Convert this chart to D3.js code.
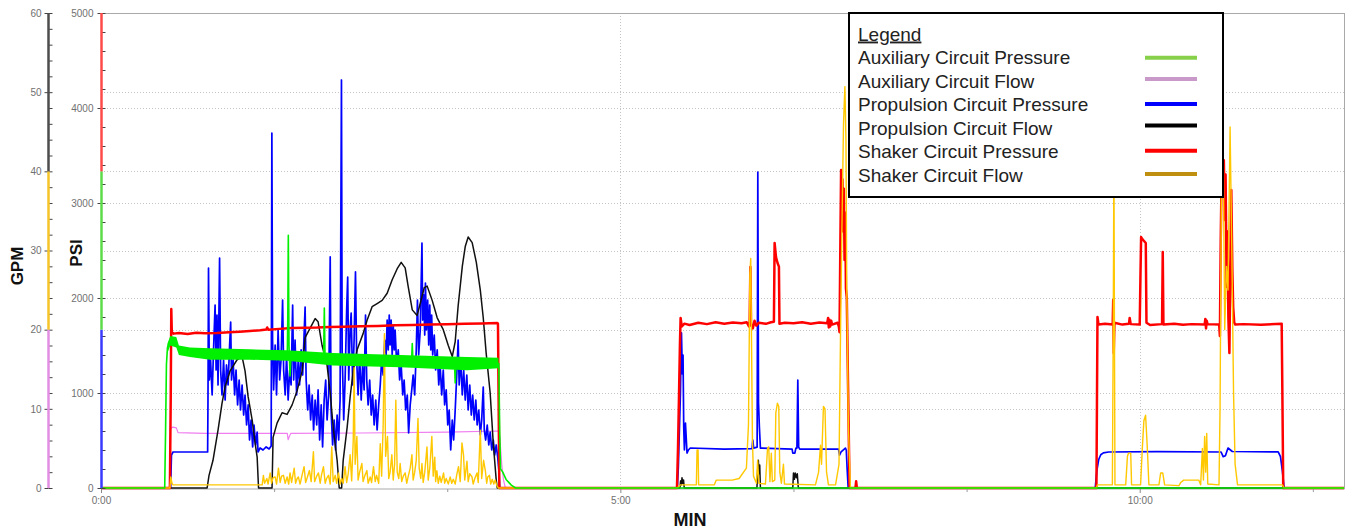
<!DOCTYPE html>
<html>
<head>
<meta charset="utf-8">
<script src="https://cdn.jsdelivr.net/npm/d3@7"></script>
<style>
  html, body { margin: 0; padding: 0; background: #fff; }
  svg { display: block; }
  text { font-family: "Liberation Sans", Arial, sans-serif; }
</style>
</head>
<body>
<svg id="chart" width="1349" height="529"></svg>
<script>
// ---- Recorded channels: time in seconds, pressure in PSI, flow in GPM ----

const auxPressure = [[0,0],[36.8,0],[37.3,600],[37.8,1300],[38.4,1480],[39.5,1540],[41,1560],[43,1555],[44.5,1470],[46,1440],[52,1430],[63,1410],[75,1410],[86,1405],[100,1400],[107.6,1395],[107.9,1800],[108.2,2660],[108.6,1500],[109.2,1180],[109.8,1390],[120,1385],[128.6,1380],[129.0,1895],[129.4,1380],[134,1360],[150,1350],[173,1340],[179.4,1330],[179.8,1520],[180.2,1330],[195,1320],[204.2,1310],[204.6,1105],[205.0,1310],[215,1305],[229.8,1310],[230.3,600],[230.8,200],[232,170],[234,90],[237,30],[239.5,0],[718,0]];

// min / max envelope of the fast ripple on the auxiliary pressure
const auxPressureSpread = [[38.4,1420,1520],[40,1500,1600],[43.5,1480,1590],[45,1400,1500],[51.4,1380,1480],[63,1350,1470],[86,1350,1460],[107.5,1340,1450],[134,1290,1420],[173,1270,1400],[211.5,1240,1380],[229.6,1260,1370]];

const auxFlow = [[0,0],[39.6,0],[40.1,7.5],[41.5,7.7],[43.5,7.6],[44.5,7.0],[60,6.9],[107.6,6.9],[108.1,6.1],[108.8,6.5],[109.6,6.9],[150,6.95],[200,7.05],[229.5,7.2],[230.3,6.5],[231.5,3],[232.5,1],[233.6,0],[718,0]];

const propPressure = [[0,0],[40.2,0],[40.7,347],[41.6,379],[61.6,379],[61.8,926],[62.1,2316],[62.6,1137],[63.3,1347],[64.2,979],[65.0,1453],[65.9,1926],[66.5,1242],[67.0,1821],[67.6,1084],[68.5,2421],[69.1,1242],[69.9,979],[70.8,1347],[71.7,926],[72.5,1295],[73.4,1084],[74.3,1505],[74.9,1747],[75.4,1137],[76.3,1347],[77.2,979],[78.0,1242],[78.9,874],[79.8,1137],[80.6,821],[81.5,1084],[82.4,768],[83.2,979],[84.1,663],[85.0,874],[85.8,505],[86.7,716],[87.6,432],[88.4,663],[89.3,453],[90.2,589],[90.7,379],[91.9,421],[93.6,400],[95.4,432],[97.1,411],[98.3,442],[98.7,3737],[99.1,1558],[99.7,1032],[100.6,1505],[101.4,979],[102.3,1663],[103.2,1137],[104.0,1347],[104.9,1979],[105.5,1242],[106.4,979],[107.2,1400],[108.1,926],[109.0,1242],[109.8,1084],[110.7,1926],[111.3,1137],[112.1,1558],[113.0,979],[113.9,1347],[114.7,1084],[115.6,1453],[116.5,1189],[117.3,1610],[117.9,1905],[118.5,1137],[119.4,821],[120.2,1084],[121.1,716],[122.0,979],[122.8,611],[123.7,926],[124.6,663],[125.4,1032],[126.3,505],[127.2,874],[128.0,432],[128.9,926],[129.8,1137],[130.6,716],[131.5,979],[132.4,2432],[132.9,821],[133.8,453],[134.7,716],[135.5,400],[136.4,768],[137.3,505],[138.1,926],[138.9,4295],[139.3,1453],[140.2,716],[141.0,1137],[141.9,1874],[142.5,2221],[143.1,1137],[143.9,1663],[144.5,1842],[145.4,1084],[146.2,1558],[147.0,2274],[147.7,1347],[148.5,979],[149.4,1400],[150.3,926],[151.1,1295],[152.0,1032],[152.8,1821],[153.5,1137],[154.3,874],[155.2,1137],[156.1,768],[156.9,979],[157.8,663],[158.7,926],[159.5,611],[160.4,874],[161.3,1084],[162.1,1347],[163.0,1189],[163.9,1558],[164.7,1400],[165.3,1768],[165.9,1453],[166.5,1821],[167.0,1505],[167.6,1768],[168.2,1400],[168.8,1716],[169.4,1453],[169.9,1663],[170.8,1295],[171.7,1453],[172.5,1137],[173.4,1295],[174.3,979],[175.1,1137],[176.0,821],[176.9,979],[177.7,579],[178.6,874],[179.5,1032],[180.3,1189],[181.2,979],[182.1,1453],[182.8,1979],[183.5,1400],[184.4,1663],[185.4,2579],[185.8,1768],[186.4,2032],[187.0,1610],[187.4,2158],[188.0,1663],[188.7,1979],[189.3,1505],[189.9,1926],[190.5,1453],[191.0,1821],[191.6,1400],[192.5,1610],[193.3,1242],[194.2,1453],[195.1,1084],[195.9,1295],[196.8,979],[197.7,1242],[198.5,874],[199.4,1032],[200.3,663],[201.1,821],[202.0,400],[202.9,716],[203.7,505],[204.6,821],[205.5,1189],[206.3,1558],[206.9,1084],[207.8,1347],[208.7,979],[209.5,1242],[210.4,926],[211.3,1189],[212.1,821],[213.0,1084],[213.9,768],[214.7,979],[215.6,716],[216.5,926],[217.3,663],[218.2,821],[219.1,558],[219.9,716],[220.8,1063],[221.4,611],[222.2,505],[223.1,663],[224.0,453],[224.8,589],[225.7,400],[226.6,505],[227.4,347],[228.3,453],[229.2,316],[229.8,190],[230.3,0],
  [332.9,0],[333.5,221],[334.7,1000],[335.3,1632],[335.8,1200],[336.2,1400],[336.6,642],[337.0,400],[337.6,684],[338.5,368],[339.3,400],[340.4,421],[360,410],[376.1,415],[376.5,505],[377.0,420],[379.0,430],[379.4,3326],[379.8,900],[380.3,642],[380.9,420],[399.2,410],[399.6,368],[400.8,368],[401.4,420],[402.0,420],[402.5,1137],[403.0,430],[403.6,410],[426.0,410],[426.6,347],[427.5,380],[430.0,420],[430.5,400],[431.0,200],[431.6,0],
  [574.3,0],[575.3,190],[576.3,300],[577.5,350],[579,370],[582,379],[610,382],[647,379],[648.2,330],[649.5,340],[651,421],[652.4,400],[653.5,384],[680,380],[681.3,330],[682.4,180],[683.4,0],[718,0]];

const propFlow = [[0,0],[61.3,0],[62.4,1.6],[64.7,3.5],[67.6,7.3],[69.9,10.7],[71.7,12.8],[74.6,14.8],[78.6,16.2],[81.5,16.6],[83.2,14.8],[85.0,11.5],[87.3,8.6],[89.0,5.7],[90.2,3.9],[91.0,0],
  [98.8,0],[99.4,6.4],[101.7,8.2],[104.6,9.5],[107.5,9.3],[110.4,10.5],[113.3,12.3],[116.2,14.8],[117.9,19.0],[120.8,20.2],[123.7,21.4],[125.4,21.0],[127.7,18.0],[129.5,16.5],[130.6,15.5],[132.4,12.0],[134.1,7.7],[136.4,3.5],[137.6,0],
  [139.0,0],[139.9,3.5],[142.2,7.7],[143.9,11.5],[145.7,14.8],[148.0,17.5],[151.4,19.5],[153.7,21.2],[156.6,22.9],[159.5,23.3],[162.4,23.7],[165.3,24.6],[168.2,26.3],[171.1,27.7],[173.4,28.5],[175.7,27.8],[177.4,25.5],[179.8,22.5],[182.6,21.8],[184.4,23.3],[186.7,25.3],[188.4,25.5],[191.3,23.7],[194.2,21.5],[197.7,20.0],[200.6,18.0],[202.9,16.6],[204.6,18.5],[206.3,23.0],[208.7,28.0],[210.4,30.5],[212.1,31.7],[214.4,31.0],[216.8,28.5],[219.1,25.0],[220.8,21.5],[222.5,17.0],[224.8,12.0],[226.6,5.6],[228.3,1.0],[228.9,0],
  [334.4,0],[334.8,0.9],[335.2,0.4],[335.6,1.3],[336.0,0.6],[336.5,1.0],[336.9,0],
  [378.9,0],[379.3,2.2],[379.7,3.5],[380.1,1.8],[380.5,2.9],[380.9,0],
  [399.6,0],[400.0,1.9],[400.5,1.1],[401.0,1.9],[401.6,1.3],[402.2,1.8],[402.8,0],[718,0]];

const shakerPressure = [[0,0],[39.8,0],[40.3,1000],[40.6,1884],[40.9,1640],[42,1625],[45,1632],[50,1620],[55,1635],[60,1628],[67,1632],[74,1640],[80,1645],[86,1652],[92,1660],[95.5,1668],[96,1690],[96.6,1665],[103,1675],[110,1684],[118,1688],[125,1690],[132,1695],[140,1698],[150,1702],[160,1706],[170,1712],[180,1716],[190,1720],[200,1724],[210,1728],[220,1732],[228.9,1737],[229.3,1730],[229.7,900],[230.1,0],
  [332.7,0],[333.3,420],[333.9,1000],[334.4,1500],[334.8,1789],[335.5,1700],[337,1730],[340,1716],[345,1740],[350,1725],[355,1745],[360,1730],[365,1742],[370,1735],[373,1745],[374.3,1700],[374.7,1760],[375.1,2326],[375.5,1720],[376.5,1680],[377.5,1760],[378.5,1710],[380,1740],[384,1728],[387,1745],[388.7,1750],[389.1,2579],[389.9,2430],[390.8,2368],[391.6,2330],[391.9,1730],[395,1740],[400,1735],[405,1745],[410,1730],[415,1742],[419.5,1735],[420,1790],[420.4,1690],[420.8,1770],[421.2,1700],[421.8,1760],[422.3,1720],[425.5,1740],[426.2,1700],[426.6,1640],[427.1,2600],[427.5,3347],[427.9,2900],[428.3,3250],[428.7,2700],[429.1,3150],[429.5,2400],[429.9,2900],[430.3,2100],[430.8,2000],[431.5,1100],[432.4,0],[435.8,0],[436.2,70],[436.6,0],
  [575.0,0],[575.3,900],[575.6,1800],[576.2,1720],[580,1730],[584.4,1720],[584.7,1980],[585.0,1421],[585.4,1740],[590,1720],[593.8,1730],[594.2,1790],[594.8,1725],[600.0,1720],[600.4,2200],[600.8,2642],[601.5,2620],[602.5,2600],[603.5,2579],[603.9,1740],[606,1715],[612.9,1725],[613.3,2484],[613.7,1720],[620,1730],[625,1718],[630,1725],[637.5,1720],[637.9,1780],[638.3,1680],[638.7,1760],[639.2,1725],[645.9,1720],[646.3,1600],[646.8,2600],[647.5,3590],[648.0,3100],[648.6,3450],[649.1,2820],[649.6,3300],[650.2,2116],[650.7,2700],[651.2,1800],[651.8,1421],[652.4,2400],[652.9,3137],[653.5,2300],[654.0,1900],[654.6,1740],[655.2,1720],[660,1725],[670,1718],[682.0,1730],[682.4,1000],[682.9,0],[718,0]];

const shakerFlow = [[0,0],[39.8,0],[40.3,1.4],[41.0,0.6],[41.6,0.4],[93.1,0.4],[93.8,1.6],[94.5,0.6],[95.8,1.2],[96.5,0.5],[97.7,1.9],[98.5,0.6],[99.4,1.3],[100.6,1.4],[101.4,0.5],[102.5,2.5],[103.5,0.7],[104.3,1.5],[105.4,1.6],[106.4,0.6],[107.5,1.4],[108.4,0.5],[109.2,1.9],[110.1,0.7],[111.6,2.5],[112.4,0.6],[113.3,1.2],[114.0,1.4],[115.0,0.5],[116.2,1.7],[117.3,2.7],[118.2,0.7],[119.1,1.3],[120.4,2.2],[121.4,0.8],[122.7,4.6],[123.4,0.8],[124.6,1.5],[125.6,1.9],[126.6,0.6],[127.4,1.7],[128.5,2.7],[129.5,0.6],[130.3,1.2],[131.4,1.6],[132.4,0.5],[133.3,5.2],[134.1,0.8],[135.3,1.6],[136.1,0.6],[137.2,1.9],[138.1,0.5],[139.0,1.2],[139.9,0.6],[141.0,2.7],[141.9,0.7],[142.8,1.8],[143.9,4.2],[144.8,0.9],[145.7,6.0],[146.2,15.2],[146.8,3.0],[147.8,6.5],[148.5,1.0],[149.4,2.0],[150.7,3.1],[151.4,0.8],[152.3,1.5],[153.6,2.2],[154.3,0.6],[155.5,1.4],[156.3,0.7],[157.4,2.7],[158.4,0.8],[159.2,1.6],[160.4,0.6],[161.3,5.6],[162.1,1.5],[163.0,8.0],[163.7,19.5],[164.4,4.0],[165.5,6.5],[166.2,1.2],[167.0,2.0],[168.0,4.2],[168.8,1.0],[169.6,3.0],[170.3,11.1],[171.1,2.0],[172.0,1.2],[172.8,3.1],[173.7,0.8],[174.6,1.5],[175.7,1.9],[176.6,0.6],[177.4,1.4],[178.6,2.5],[179.6,4.2],[180.3,1.0],[181.2,2.0],[182.1,3.5],[183.1,8.8],[183.8,2.5],[184.7,1.2],[185.4,3.1],[186.1,0.7],[187.0,2.0],[188.3,5.2],[189.0,1.0],[189.9,2.5],[191.1,6.5],[191.9,1.5],[192.8,3.9],[193.3,0.8],[194.0,2.2],[194.8,0.6],[195.7,1.5],[196.5,0.7],[197.9,1.9],[198.5,0.6],[199.4,1.2],[200.6,0.5],[201.7,1.4],[202.6,0.6],[203.5,1.1],[204.6,0.5],[205.5,1.7],[206.5,2.7],[207.5,0.8],[208.5,5.7],[209.4,4.2],[210.1,1.0],[211.4,3.4],[212.1,0.8],[213.0,1.8],[214.3,1.4],[215.0,0.5],[215.9,1.2],[217.2,1.9],[217.9,0.7],[219.1,7.3],[219.9,1.2],[221.0,3.5],[222.0,2.2],[222.8,0.6],[223.4,1.4],[224.4,1.6],[225.1,0.5],[226.0,1.1],[226.9,0.5],[227.7,1.0],[228.7,0.3],[229.5,0],
  [332.9,0],[334.7,0.4],[343.9,0.4],[344.3,4.8],[344.9,4.8],[345.2,0.4],[354.3,0.4],[355.4,1.0],[364.6,1.0],[368.6,1.2],[372.8,2.5],[374.0,8],[374.8,27],[375.3,29],[375.7,20],[376.3,6],[376.9,1.5],[378.6,0.6],[379.3,3.5],[380,0.6],[383.8,0.5],[385.0,5.0],[385.7,5.2],[386.4,0.8],[387.2,4.4],[387.8,0.8],[389.2,1.0],[389.8,9.5],[390.7,10.7],[391.5,10.3],[392.1,2],[393.0,0.6],[394.2,3],[394.8,0.5],[412.7,0.4],[414.5,2],[415.6,5.4],[416.2,3],[417.3,10.3],[418.2,10],[419.1,2],[420.2,0.4],[424.3,0.4],[426.3,3],[427.2,20],[428.0,33],[428.9,46],[429.7,50.7],[430.3,44],[430.8,25],[431.7,8],[432.9,0],
  [575.0,0],[575.6,0.4],[584.2,0.4],[584.7,20],[585.1,42.3],[585.4,20],[585.7,0.4],[591.9,0.4],[592.9,4.0],[593.5,4.4],[594.8,4.4],[595.3,0.4],[600.5,0.4],[601.5,5],[602.4,8.5],[603.4,9.2],[604.4,5],[605.3,0.4],[611.1,0.4],[612.1,1.9],[613.3,1.9],[614.4,0.4],[622.7,0.3],[623.7,0.7],[625.4,1.0],[634.1,1.0],[635.2,0.4],[636.2,5],[636.8,1],[637.5,6.5],[638.1,2],[638.7,6.9],[639.3,0.5],[645.8,0.4],[646.4,10],[647.2,38],[648.2,43.5],[649.1,20],[650.1,28],[651.0,25],[652.2,45.6],[653.2,30],[654.2,12],[655.1,3],[656.5,0.4],[682.4,0.4],[683.4,0],[718,0]];

// ---- Legend entries and axis ticks ----
const legendNames = ["Auxiliary Circuit Pressure", "Auxiliary Circuit Flow", "Propulsion Circuit Pressure", "Propulsion Circuit Flow", "Shaker Circuit Pressure", "Shaker Circuit Flow"];
const legendColors = ["#86d04a", "#c99ac9", "#0000ff", "#000000", "#ff0000", "#bf900f"];

const timeTicks = [0, 300, 600];
const timeTickLabels = ["0:00", "5:00", "10:00"];
const timeMinorTicks = [100, 200, 400, 500, 700];
const psiTicks = [0, 1000, 2000, 3000, 4000, 5000];
const psiTickLabels = ["0", "1000", "2000", "3000", "4000", "5000"];
const gpmTicks = [0, 10, 20, 30, 40, 50, 60];
const gpmTickLabels = ["0", "10", "20", "30", "40", "50", "60"];
const psiAxisBands = [[0, 5000 / 3, "#3a3aff"], [5000 / 3, 10000 / 3, "#5cdc48"], [10000 / 3, 5000, "#ff4a4a"]];
const gpmAxisBands = [[0, 20, "#e28ee2"], [20, 40, "#f4c428"], [40, 60, "#4d4d4d"]];

(function draw() {
  // ---- Scales ----
  const svg = d3.select("#chart");
  const pLeft = 101, pRight = 1344, pTop = 13, pBottom = 488;
  const x = d3.scaleLinear().domain([0, 718]).range([pLeft, pRight]);
  const yPsi = d3.scaleLinear().domain([0, 5000]).range([pBottom, pTop]);
  const yGpm = d3.scaleLinear().domain([0, 60]).range([pBottom, pTop]);

  // ---- Dotted gridlines ----
  const grid = svg.append("g")
    .attr("stroke", "#c4c4c4").attr("stroke-width", 1).attr("stroke-dasharray", "1,2");
  psiTicks.filter(v => v > 0 && v < 5000).forEach(v => {
    const y = Math.round(yPsi(v)) + 0.5;
    grid.append("line").attr("x1", pLeft).attr("x2", pRight).attr("y1", y).attr("y2", y);
  });
  gpmTicks.filter(v => v > 0 && v < 60).forEach(v => {
    const y = Math.round(yGpm(v)) + 0.5;
    grid.append("line").attr("x1", pLeft).attr("x2", pRight).attr("y1", y).attr("y2", y);
  });
  timeTicks.filter(v => v > 0).forEach(v => {
    const xx = Math.round(x(v)) + 0.5;
    grid.append("line").attr("x1", xx).attr("x2", xx).attr("y1", pTop).attr("y2", pBottom);
  });

  // ---- Plot frame ----
  const frame = svg.append("g").attr("stroke", "#a9a9a9").attr("stroke-width", 1).attr("fill", "none");
  frame.append("line").attr("x1", pLeft).attr("x2", pRight + 0.5).attr("y1", pTop + 0.5).attr("y2", pTop + 0.5);
  frame.append("line").attr("x1", pRight + 0.5).attr("x2", pRight + 0.5).attr("y1", pTop).attr("y2", pBottom + 1);
  frame.append("line").attr("x1", pLeft).attr("x2", pRight + 0.5).attr("y1", pBottom + 1).attr("y2", pBottom + 1);

  // ---- Series ----
  svg.append("defs").append("clipPath").attr("id", "plotClip")
    .append("rect").attr("x", pLeft).attr("y", pTop - 2).attr("width", pRight - pLeft).attr("height", pBottom - pTop + 4);
  const plot = svg.append("g").attr("clip-path", "url(#plotClip)");

  const psiLine = d3.line().x(d => x(d[0])).y(d => yPsi(d[1]));
  const gpmLine = d3.line().x(d => x(d[0])).y(d => yGpm(d[1]));

  function drawLine(data, gen, color, width) {
    plot.append("path").datum(data)
      .attr("d", gen)
      .attr("fill", "none")
      .attr("stroke", color)
      .attr("stroke-width", width)
      .attr("stroke-linejoin", "round")
      .attr("stroke-linecap", "round");
  }

  drawLine(auxFlow, gpmLine, "#f07ef0", 1.2);
  drawLine(propPressure, psiLine, "#0000ff", 1.7);
  drawLine(propFlow, gpmLine, "#111111", 1.5);
  drawLine(shakerPressure, psiLine, "#ff0000", 2.5);
  drawLine(shakerFlow, gpmLine, "#ffc800", 1.4);

  plot.append("path").datum(auxPressureSpread)
    .attr("d", d3.area().x(d => x(d[0])).y0(d => yPsi(d[1])).y1(d => yPsi(d[2])))
    .attr("fill", "#00f000");
  drawLine(auxPressure, psiLine, "#00f000", 1.6);

  // ---- Time axis ----
  const xAxisG = svg.append("g").attr("transform", `translate(0,${pBottom + 1})`)
    .call(d3.axisBottom(x).tickValues(timeTicks).tickFormat((d, i) => timeTickLabels[i]).tickSize(4).tickPadding(4));
  xAxisG.select(".domain").remove();
  xAxisG.selectAll("line").attr("stroke", "#888");
  xAxisG.selectAll("text").attr("fill", "#707070").style("font-size", "10px");
  const xMinor = svg.append("g").attr("transform", `translate(0,${pBottom + 1})`)
    .call(d3.axisBottom(x).tickValues(timeMinorTicks).tickFormat("").tickSize(3));
  xMinor.select(".domain").remove();
  xMinor.selectAll("line").attr("stroke", "#999");

  // ---- GPM axis ----
  const gpmX = 48.5;
  const gpmG = svg.append("g").attr("transform", `translate(${gpmX},0)`)
    .call(d3.axisLeft(yGpm).tickValues(gpmTicks).tickFormat((d, i) => gpmTickLabels[i]).tickSize(4).tickPadding(3));
  gpmG.select(".domain").remove();
  gpmG.selectAll("line").attr("stroke", "#444");
  gpmG.selectAll("text").attr("fill", "#707070").style("font-size", "10px");
  const gpmMinor = svg.append("g").attr("transform", `translate(${gpmX},0)`)
    .call(d3.axisLeft(yGpm).tickValues(d3.range(0, 61, 2)).tickFormat("").tickSize(-4));
  gpmMinor.select(".domain").remove();
  gpmMinor.selectAll("line").attr("stroke", "#444");
  gpmAxisBands.forEach(b => {
    svg.append("line").attr("x1", gpmX).attr("x2", gpmX)
      .attr("y1", yGpm(b[0])).attr("y2", yGpm(b[1]))
      .attr("stroke", b[2]).attr("stroke-width", 2.5);
  });

  // ---- PSI axis ----
  const psiX = 101.5;
  const psiG = svg.append("g").attr("transform", `translate(${psiX},0)`)
    .call(d3.axisLeft(yPsi).tickValues(psiTicks).tickFormat((d, i) => psiTickLabels[i]).tickSize(4).tickPadding(4));
  psiG.select(".domain").remove();
  psiG.selectAll("line").attr("stroke", "#444");
  psiG.selectAll("text").attr("fill", "#707070").style("font-size", "10px");
  const psiMinor = svg.append("g").attr("transform", `translate(${psiX},0)`)
    .call(d3.axisLeft(yPsi).tickValues(d3.range(0, 5001, 200)).tickFormat("").tickSize(-4));
  psiMinor.select(".domain").remove();
  psiMinor.selectAll("line").attr("stroke", "#444");
  psiAxisBands.forEach(b => {
    svg.append("line").attr("x1", psiX).attr("x2", psiX)
      .attr("y1", yPsi(b[0])).attr("y2", yPsi(b[1]))
      .attr("stroke", b[2]).attr("stroke-width", 2.5);
  });

  // ---- Axis titles ----
  svg.append("text").text("GPM")
    .attr("transform", "translate(23,266) rotate(-90)")
    .attr("text-anchor", "middle").style("font-size", "17px").style("font-weight", "bold").attr("fill", "#111");
  svg.append("text").text("PSI")
    .attr("transform", "translate(82,253) rotate(-90)")
    .attr("text-anchor", "middle").style("font-size", "17px").style("font-weight", "bold").attr("fill", "#111");
  svg.append("text").text("MIN")
    .attr("x", 690).attr("y", 526)
    .attr("text-anchor", "middle").style("font-size", "18px").style("font-weight", "bold").attr("fill", "#111");

  // ---- Legend ----
  const lg = svg.append("g");
  lg.append("rect").attr("x", 849).attr("y", 13).attr("width", 374).attr("height", 184)
    .attr("fill", "#fff").attr("stroke", "#000").attr("stroke-width", 2);
  lg.append("text").text("Legend").attr("x", 858).attr("y", 40.5)
    .style("font-size", "19px").style("text-decoration", "underline").attr("fill", "#222");
  const rowBase = [64, 87.5, 111, 134.5, 158, 181.5];
  const rowLine = [57.7, 79, 104, 125.5, 150.7, 174];
  legendNames.forEach((name, i) => {
    lg.append("text").text(name).attr("x", 858).attr("y", rowBase[i])
      .style("font-size", "19px").attr("fill", "#222");
    lg.append("line").attr("x1", 1145).attr("x2", 1197)
      .attr("y1", rowLine[i]).attr("y2", rowLine[i])
      .attr("stroke", legendColors[i]).attr("stroke-width", 4);
  });
})();
</script>
</body>
</html>
